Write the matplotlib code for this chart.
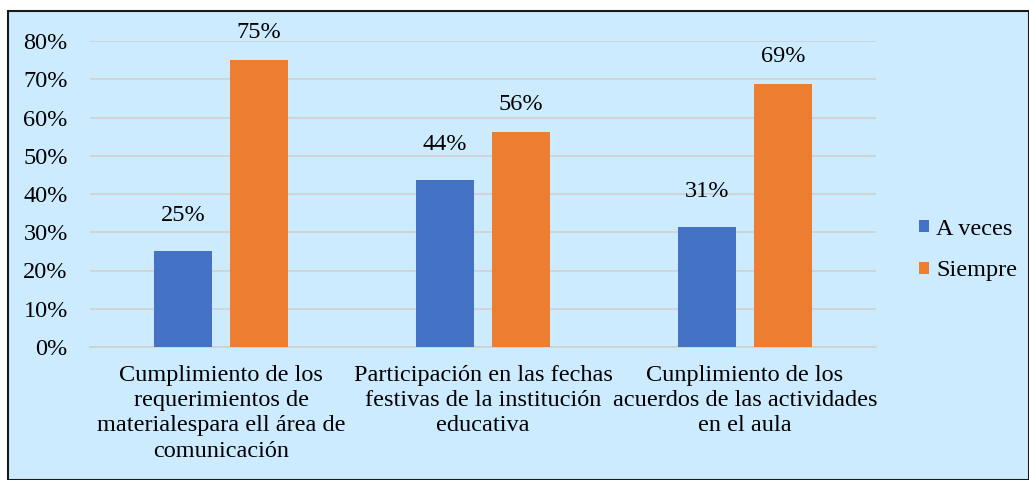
import numpy as np
import matplotlib.pyplot as plt
from matplotlib.patches import Rectangle
from matplotlib.ticker import FuncFormatter

plt.rcParams['font.family'] = ['Liberation Serif', 'DejaVu Serif']

categorias = ['Cumplimiento de los\nrequerimientos de\nmaterialespara ell área de\ncomunicación',
              'Participación en las fechas\nfestivas de la institución\neducativa',
              'Cunplimiento de los\nacuerdos de las actividades\nen el aula']
a_veces = [25, 43.75, 31.25]
siempre = [75, 56.25, 68.75]
etiq_a = ['25%', '44%', '31%']
etiq_s = ['75%', '56%', '69%']

fondo = '#CCEBFF'
azul = '#4472C4'
naranja = '#ED7D31'
fs = 17.5

W, H = 1029, 480
fig = plt.figure(figsize=(W / 100, H / 100), dpi=100)
fig.patch.set_facecolor('white')
fig.patches.append(Rectangle((8 / W, 0), 1 - 8 / W, 1 - 11 / H, transform=fig.transFigure,
                             facecolor=fondo, edgecolor='#1a1a1a', linewidth=1.5, zorder=-1))

ax = fig.add_axes([90 / W, 1 - 347 / H, 786 / W, 306 / H])
ax.set_facecolor(fondo)

x = np.arange(len(categorias))
w = 0.225
b1 = ax.bar(x - 0.145, a_veces, w, color=azul, label='A veces', zorder=3)
b2 = ax.bar(x + 0.145, siempre, w, color=naranja, label='Siempre', zorder=3)

for rect, t in zip(b1, etiq_a):
    ax.annotate(t, (rect.get_x() + rect.get_width() / 2, rect.get_height()),
                xytext=(0, 18), textcoords='offset points', ha='center', va='bottom', fontsize=fs)
for rect, t in zip(b2, etiq_s):
    ax.annotate(t, (rect.get_x() + rect.get_width() / 2, rect.get_height()),
                xytext=(0, 12), textcoords='offset points', ha='center', va='bottom', fontsize=fs)

ax.set_xlim(-0.5, 2.5)
ax.set_ylim(0, 80)
ax.set_yticks(range(0, 81, 10))
ax.yaxis.set_major_formatter(FuncFormatter(lambda v, p: f'{v:.0f}%'))
ax.set_xticks(x)
ax.set_xticklabels(categorias, fontsize=fs, linespacing=1.26)
ax.tick_params(axis='y', labelsize=fs, length=0, pad=16)
ax.tick_params(axis='x', length=0, pad=13)
ax.grid(axis='y', color='#D0D0D0', linewidth=1.2, zorder=0)
for s in ['top', 'right', 'left']:
    ax.spines[s].set_visible(False)
ax.spines['bottom'].set_color('#D0D0D0')
ax.spines['bottom'].set_linewidth(1.2)

ax.legend(loc='center left', bbox_to_anchor=(897 / W, 1 - 250 / H), bbox_transform=fig.transFigure,
          frameon=False, fontsize=fs, handlelength=0.4, handleheight=0.4, handletextpad=0.3,
          labelspacing=0.85)

fig.savefig('out.png', dpi=100)
